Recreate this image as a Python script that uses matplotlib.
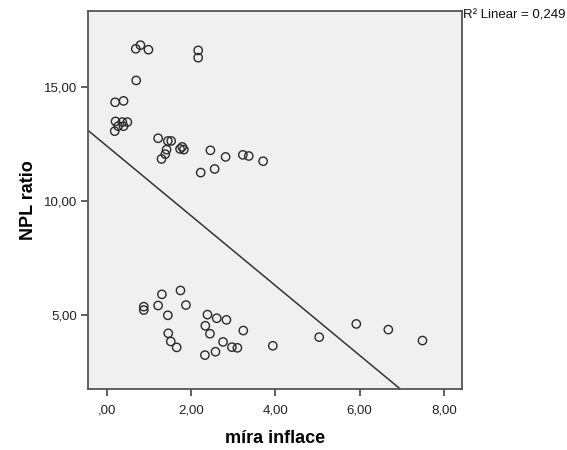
import numpy as np
import matplotlib
matplotlib.use('Agg')
import matplotlib.pyplot as plt

plt.rcParams['font.family'] = ['Liberation Sans', 'DejaVu Sans']

# inflation rate (x) and NPL ratio (y)
mira_inflace = [
    0.69, 0.80, 0.99, 2.17, 2.17, 0.70, 0.20, 0.40,
    0.21, 0.37, 0.49, 0.27, 0.40, 0.19,
    1.22, 1.45, 1.53, 1.42, 1.39, 1.30, 1.74, 1.83, 1.79,
    2.46, 2.82, 3.23, 3.37, 3.71, 2.23, 2.56,
    1.75, 1.31, 0.88, 0.88, 1.22, 1.88, 1.45, 2.39, 2.61, 2.84,
    2.34, 2.45, 1.46, 1.52, 1.66, 2.76, 2.97, 3.10, 3.24, 2.58,
    2.33, 3.94, 5.04, 5.92, 6.68, 7.49,
]
npl_ratio = [
    16.68, 16.84, 16.64, 16.61, 16.29, 15.29, 14.33, 14.39,
    13.49, 13.46, 13.46, 13.28, 13.28, 13.06,
    12.75, 12.63, 12.63, 12.25, 12.05, 11.84, 12.28, 12.25, 12.37,
    12.22, 11.93, 12.02, 11.97, 11.74, 11.24, 11.40,
    6.06, 5.89, 5.35, 5.20, 5.40, 5.42, 4.97, 5.00, 4.84, 4.77,
    4.51, 4.16, 4.18, 3.82, 3.56, 3.80, 3.57, 3.54, 4.30, 3.37,
    3.22, 3.63, 4.01, 4.59, 4.34, 3.86,
]

x_ticks = [0, 2, 4, 6, 8]
y_ticks = [5, 10, 15]
r2_label = 'R² Linear = 0,249'


def comma_fmt(v):
    s = '%.2f' % v
    s = s.replace('.', ',')
    if s.startswith('0'):
        s = s[1:]
    return s


fig = plt.figure(figsize=(5.67, 4.5), dpi=100)
ax = fig.add_axes([0.155, 0.136, 0.660, 0.839])
ax.set_facecolor('#f0f0f0')

x = np.array(mira_inflace)
y = np.array(npl_ratio)
ax.scatter(x, y, s=36, facecolors='none', edgecolors='#2b2b2b', linewidths=1.0, zorder=3)

# linear fit line across the whole plot area
slope, intercept = np.polyfit(x, y, 1)
xs = np.array([-1, 9])
ax.plot(xs, intercept + slope * xs, color='#333333', linewidth=1.1, zorder=2)

ax.set_xlim(-0.446, 8.43)
ax.set_ylim(1.74, 18.33)
ax.set_xticks(x_ticks)
ax.set_xticklabels([comma_fmt(v) for v in x_ticks], fontsize=9.5, color='#222222')
ax.set_yticks(y_ticks)
ax.set_yticklabels([comma_fmt(v) for v in y_ticks], fontsize=9.5, color='#222222')
ax.tick_params(direction='out', length=5, width=1.2, color='#444444', pad=3)
ax.tick_params(axis='x', pad=6)

for side in ['left', 'bottom', 'top', 'right']:
    ax.spines[side].set_color('#555555')
    ax.spines[side].set_linewidth(1.3)

ax.set_xlabel('míra inflace', fontsize=13, fontweight='bold', labelpad=10)
ax.set_ylabel('NPL ratio', fontsize=13, fontweight='bold', labelpad=5)

fig.text(0.816, 0.966, r2_label, fontsize=9.5, ha='left', va='center', color='#111111')

fig.savefig('out.png', dpi=100)
